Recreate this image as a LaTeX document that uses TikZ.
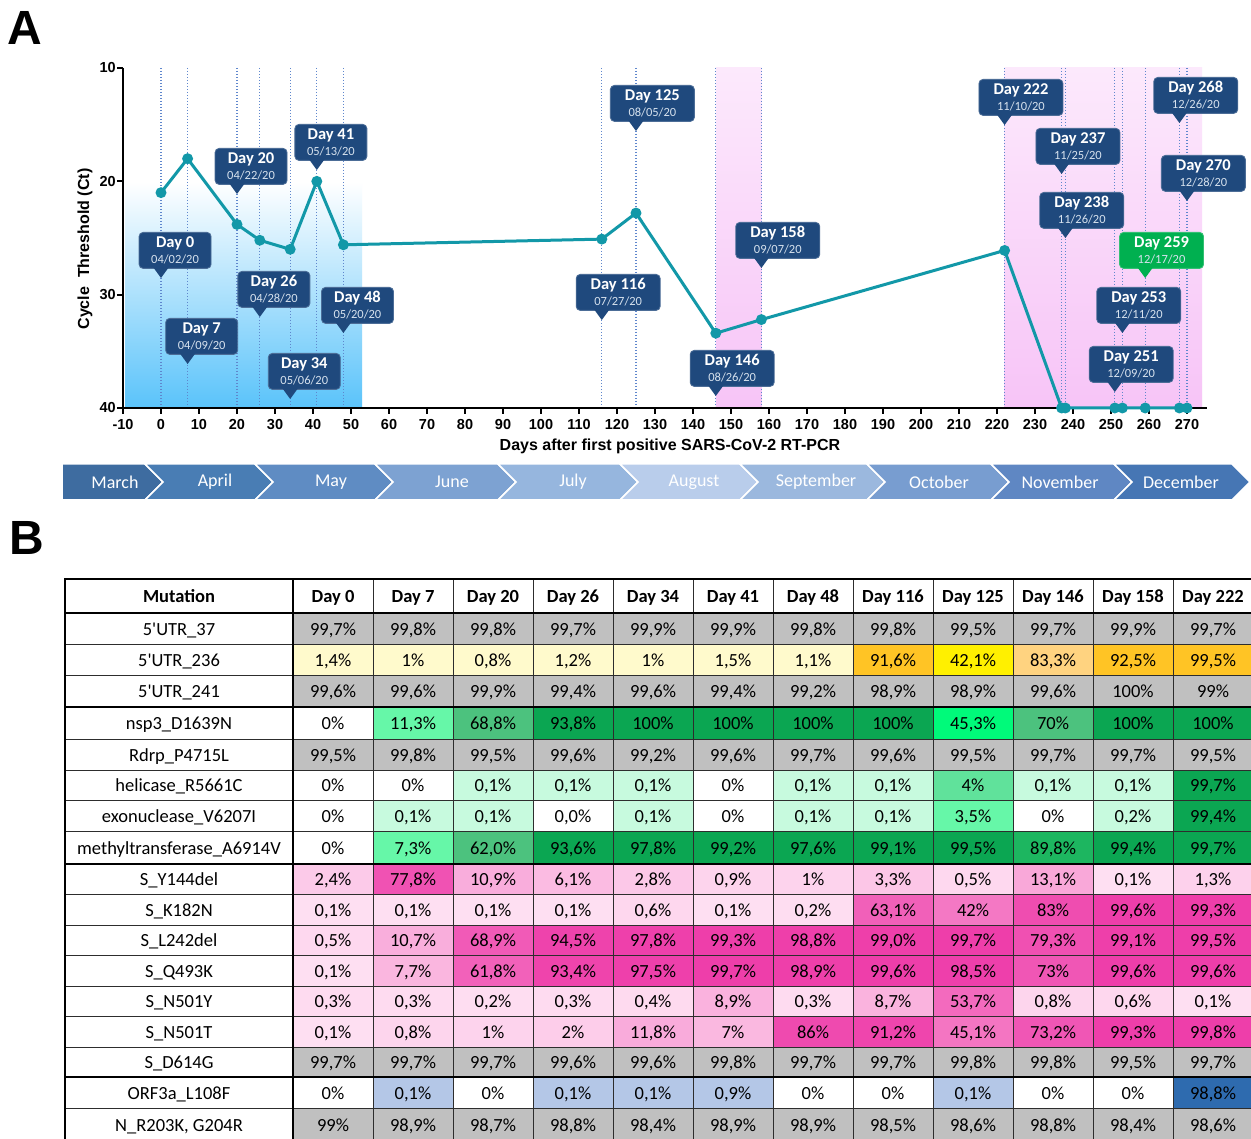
\documentclass[tikz,border=0pt]{standalone}
\usepackage{fontspec}
\setmainfont{Carlito}
\newfontfamily\arial{Liberation Sans}
\definecolor{navy}{RGB}{31,73,125}
\definecolor{cgreen}{RGB}{0,176,80}
\definecolor{datec}{RGB}{215,226,238}
\definecolor{dotc}{RGB}{95,135,205}
\definecolor{tealc}{RGB}{18,152,168}
\definecolor{bluesh}{RGB}{90,195,250}
\definecolor{bluemid}{RGB}{165,218,250}
\definecolor{pinkT}{RGB}{252,233,252}
\definecolor{pinkB}{RGB}{247,196,247}
\definecolor{m1}{RGB}{62,108,160}
\definecolor{m2}{RGB}{73,125,180}
\definecolor{m3}{RGB}{95,140,195}
\definecolor{m4}{RGB}{125,162,210}
\definecolor{m5}{RGB}{150,182,222}
\definecolor{m6}{RGB}{185,205,235}
\definecolor{m7}{RGB}{155,184,222}
\definecolor{m8}{RGB}{120,157,208}
\definecolor{m9}{RGB}{95,135,195}
\definecolor{m10}{RGB}{70,118,180}
\definecolor{gy}{RGB}{192,192,192}
\definecolor{yL}{RGB}{255,250,204}
\definecolor{yO}{RGB}{255,196,37}
\definecolor{yY}{RGB}{255,240,0}
\definecolor{yP}{RGB}{255,211,128}
\definecolor{gW}{RGB}{255,255,255}
\definecolor{gA}{RGB}{199,250,222}
\definecolor{gB}{RGB}{102,247,168}
\definecolor{gBb}{RGB}{96,226,155}
\definecolor{gC}{RGB}{76,194,126}
\definecolor{gD}{RGB}{11,166,82}
\definecolor{gDb}{RGB}{29,182,96}
\definecolor{gE}{RGB}{0,250,122}
\definecolor{bL}{RGB}{180,199,231}
\definecolor{bD}{RGB}{46,107,175}
\definecolor{pkL}{RGB}{255,228,244}
\definecolor{pkH}{RGB}{238,62,170}
\definecolor{gridc}{RGB}{45,45,45}

\newcommand{\callout}[5][navy]{%
  \pgfmathsetmacro\tx{161+3.8*#2}%
  \pgfmathsetmacro\bl{\tx-0.31*#4}%
  \node[cbox, fill=#1, draw=#1!80!white, minimum width=#4pt, anchor=north west] (c#2) at (\bl,#3)
    {{\bfseries\fontsize{16.5}{16}\selectfont Day #2}\\{\color{datec}#5}};
  \coordinate (c#2tip) at (\tx,{#3+46});
  \fill[#1] ({\tx-8},{#3+35}) -- (c#2tip) -- ({\tx+8},{#3+35}) -- cycle;
}
\newcommand{\trow}[5]{%
  \node[cell] (rn#1) at (179,{(#2+#3)/2+6.5}) {#4};
  \foreach \ccol/\ctxt [count=\i] in {#5} {%
    \fill[\ccol] ({213+80*\i},#2) rectangle ({293+80*\i},#3);
    \node[cell] (r#1c\i) at ({253+80*\i},{(#2+#3)/2+6.5}) {\ctxt};
  }}
\newcommand{\prow}[5]{%
  \node[cell] (rn#1) at (179,{(#2+#3)/2+6.5}) {#4};
  \foreach \pv/\ctxt [count=\i] in {#5} {%
    \pgfmathsetmacro\pmix{min(100,10*sqrt(\pv))}%
    \fill[pkH!\pmix!pkL] ({213+80*\i},#2) rectangle ({293+80*\i},#3);
    \node[cell] (r#1c\i) at ({253+80*\i},{(#2+#3)/2+6.5}) {\ctxt};
  }}
\newcommand{\q}{\textquotesingle}

\begin{document}
\begin{tikzpicture}[x=1pt,y=-1pt,
  cbox/.style={line width=0.8pt, rounded corners=4pt, minimum height=36pt, inner sep=0pt,
    align=center, text=white, font=\fontsize{12.5}{16}\selectfont},
  dayline/.style={draw=dotc, line width=1.1pt, dash pattern=on 1.2pt off 1.8pt},
  tlab/.style={font=\arial\bfseries\fontsize{14.5}{14}\selectfont, inner sep=0pt},
  mon/.style={font=\fontsize{18}{18}\selectfont, text=white, inner sep=0pt},
  cell/.style={font=\fontsize{18.5}{18}\selectfont, inner sep=0pt, anchor=base},
  hdr/.style={font=\bfseries\fontsize{18.5}{18}\selectfont, inner sep=0pt, anchor=base},
  thingrid/.style={draw=gridc, line width=0.9pt},
  thickgrid/.style={draw=black, line width=2.2pt},
  dataline/.style={draw=tealc, line width=3pt, line join=round},
  panel/.style={font=\arial\bfseries\fontsize{48}{48}\selectfont, inner sep=0pt}]
\useasboundingbox (0,0) rectangle (1251,1139);
\fill[white] (0,0) rectangle (1251,1139);

% panel labels
\node[panel] (lA) at (25,28) {A};
\node[panel] (lB) at (27,538) {B};

% shaded regions
\shade[top color=white, middle color=bluemid, bottom color=bluesh] (125,182) rectangle (362,408);
\shade[top color=pinkT, bottom color=pinkB] (715.8,68) rectangle (761.4,408);
\shade[top color=pinkT, bottom color=pinkB] (1004.6,68) rectangle (1202,408);

% dotted day lines
\foreach \d in {0,7,20,26,34,41,48,116,125,146,158,222,237,238,251,253,259,268,270}
  \draw[dayline] ({161+3.8*\d},68) -- ({161+3.8*\d},408);

% axes
\draw[line width=2pt] (123,68) -- (123,408) -- (1207,408);
\foreach \yy in {68,181.3,294.7,408} \draw[line width=2pt] (117,\yy) -- (123,\yy);
\foreach \d in {-10,0,...,270} {
  \draw[line width=2pt] ({161+3.8*\d},408) -- ({161+3.8*\d},414);
  \node[tlab] (xt\d) at ({161+3.8*\d},425) {\d};
}
\foreach \v/\yy in {10/68,20/181.3,30/294.7,40/408}
  \node[tlab, anchor=east] (yt\v) at (116,\yy) {\v};
\node[font=\arial\bfseries\fontsize{16}{16}\selectfont, rotate=90, inner sep=0pt] (ylab) at (85,249) {Cycle~ Threshold (Ct)};
\node[font=\arial\bfseries\fontsize{16}{16}\selectfont, inner sep=0pt] (xlab) at (670,446) {Days after first positive SARS-CoV-2 RT-PCR};

% data
\foreach \d/\c in {0/21.0,7/18.0,20/23.8,26/25.2,34/26.0,41/20.0,48/25.6,116/25.1,125/22.8,146/33.4,158/32.2,222/26.1,237/40,238/40,251/40,253/40,259/40,268/40,270/40}
  \coordinate (p\d) at ({161+3.8*\d},{68+11.333*(\c-10)});
\draw[dataline] (p0) -- (p7) -- (p20) -- (p26) -- (p34) -- (p41) -- (p48) -- (p116) -- (p125) -- (p146) -- (p158) -- (p222) -- (p237) -- (p238) -- (p251) -- (p253) -- (p259) -- (p268) -- (p270);
\foreach \d in {0,7,20,26,34,41,48,116,125,146,158,222,237,238,251,253,259,268,270}
  \fill[tealc] (p\d) circle (5.5);

% callouts
\callout{0}{232}{72}{04/02/20}
\callout{7}{318}{72}{04/09/20}
\callout{20}{148}{72}{04/22/20}
\callout{26}{271}{72}{04/28/20}
\callout{34}{353}{72}{05/06/20}
\callout{41}{124}{72}{05/13/20}
\callout{48}{287}{72}{05/20/20}
\callout{116}{274}{84}{07/27/20}
\callout{125}{85}{84}{08/05/20}
\callout{146}{350}{84}{08/26/20}
\callout{158}{222}{84}{09/07/20}
\callout{222}{79}{84}{11/10/20}
\callout{237}{128}{84}{11/25/20}
\callout{238}{192}{84}{11/26/20}
\callout{268}{77}{84}{12/26/20}
\callout{270}{155}{84}{12/28/20}
\callout[cgreen]{259}{232}{84}{12/17/20}
\callout{253}{287}{84}{12/11/20}
\callout{251}{346}{84}{12/09/20}

% month band
\filldraw[fill=m1, draw=white, line width=1.5pt] (62,464) -- (145,464) -- (163,482) -- (145,500) -- (62,500) -- cycle;
\node[mon] (mon1) at (115,482) {March};
\foreach \a/\b/\col/\cx/\mname [count=\i from 2] in {145/255/m2/215/April,255/375/m3/331/May,375/498/m4/452/June,498/620/m5/573/July,620/740/m6/694/August,740/867/m7/816/September,867/991/m8/939/October,991/1114/m9/1060/November,1114/1232/m10/1181/December} {
  \filldraw[fill=\col, draw=white, line width=1.5pt] (\a,464) -- (\b,464) -- ({\b+18},482) -- (\b,500) -- (\a,500) -- ({\a+18},482) -- cycle;
  \node[mon] (mon\i) at (\cx,482) {\mname};
}

% table
\node[hdr] (hm) at (179,602.5) {Mutation};
\foreach \h [count=\i] in {0,7,20,26,34,41,48,116,125,146,158,222}
  \node[hdr] (h\i) at ({253+80*\i},602.5) {Day \h};

\trow{1}{613}{644}{5\q UTR\_37}{gy/{99,7\%},gy/{99,8\%},gy/{99,8\%},gy/{99,7\%},gy/{99,9\%},gy/{99,9\%},gy/{99,8\%},gy/{99,8\%},gy/{99,5\%},gy/{99,7\%},gy/{99,9\%},gy/{99,7\%}}
\trow{2}{644}{675}{5\q UTR\_236}{yL/{1,4\%},yL/{1\%},yL/{0,8\%},yL/{1,2\%},yL/{1\%},yL/{1,5\%},yL/{1,1\%},yO/{91,6\%},yY/{42,1\%},yP/{83,3\%},yO/{92,5\%},yO/{99,5\%}}
\trow{3}{675}{707}{5\q UTR\_241}{gy/{99,6\%},gy/{99,6\%},gy/{99,9\%},gy/{99,4\%},gy/{99,6\%},gy/{99,4\%},gy/{99,2\%},gy/{98,9\%},gy/{98,9\%},gy/{99,6\%},gy/{100\%},gy/{99\%}}
\trow{4}{707}{739}{nsp3\_D1639N}{gW/{0\%},gB/{11,3\%},gC/{68,8\%},gD/{93,8\%},gD/{100\%},gD/{100\%},gD/{100\%},gD/{100\%},gE/{45,3\%},gC/{70\%},gD/{100\%},gD/{100\%}}
\trow{5}{739}{770}{Rdrp\_P4715L}{gy/{99,5\%},gy/{99,8\%},gy/{99,5\%},gy/{99,6\%},gy/{99,2\%},gy/{99,6\%},gy/{99,7\%},gy/{99,6\%},gy/{99,5\%},gy/{99,7\%},gy/{99,7\%},gy/{99,5\%}}
\trow{6}{770}{800}{helicase\_R5661C}{gW/{0\%},gW/{0\%},gA/{0,1\%},gA/{0,1\%},gA/{0,1\%},gW/{0\%},gA/{0,1\%},gA/{0,1\%},gBb/{4\%},gA/{0,1\%},gA/{0,1\%},gD/{99,7\%}}
\trow{7}{800}{831}{exonuclease\_V6207I}{gW/{0\%},gA/{0,1\%},gA/{0,1\%},gW/{0,0\%},gA/{0,1\%},gW/{0\%},gA/{0,1\%},gA/{0,1\%},gB/{3,5\%},gW/{0\%},gA/{0,2\%},gD/{99,4\%}}
\trow{8}{831}{864}{methyltransferase\_A6914V}{gW/{0\%},gB/{7,3\%},gC/{62,0\%},gD/{93,6\%},gD/{97,8\%},gD/{99,2\%},gD/{97,6\%},gD/{99,1\%},gD/{99,5\%},gDb/{89,8\%},gD/{99,4\%},gD/{99,7\%}}
\prow{9}{864}{894}{S\_Y144del}{2.4/{2,4\%},77.8/{77,8\%},10.9/{10,9\%},6.1/{6,1\%},2.8/{2,8\%},0.9/{0,9\%},1/{1\%},3.3/{3,3\%},0.5/{0,5\%},13.1/{13,1\%},0.1/{0,1\%},1.3/{1,3\%}}
\prow{10}{894}{925}{S\_K182N}{0.1/{0,1\%},0.1/{0,1\%},0.1/{0,1\%},0.1/{0,1\%},0.6/{0,6\%},0.1/{0,1\%},0.2/{0,2\%},63.1/{63,1\%},42/{42\%},83/{83\%},99.6/{99,6\%},99.3/{99,3\%}}
\prow{11}{925}{955}{S\_L242del}{0.5/{0,5\%},10.7/{10,7\%},68.9/{68,9\%},94.5/{94,5\%},97.8/{97,8\%},99.3/{99,3\%},98.8/{98,8\%},99/{99,0\%},99.7/{99,7\%},79.3/{79,3\%},99.1/{99,1\%},99.5/{99,5\%}}
\prow{12}{955}{986}{S\_Q493K}{0.1/{0,1\%},7.7/{7,7\%},61.8/{61,8\%},93.4/{93,4\%},97.5/{97,5\%},99.7/{99,7\%},98.9/{98,9\%},99.6/{99,6\%},98.5/{98,5\%},73/{73\%},99.6/{99,6\%},99.6/{99,6\%}}
\prow{13}{986}{1016}{S\_N501Y}{0.3/{0,3\%},0.3/{0,3\%},0.2/{0,2\%},0.3/{0,3\%},0.4/{0,4\%},8.9/{8,9\%},0.3/{0,3\%},8.7/{8,7\%},53.7/{53,7\%},0.8/{0,8\%},0.6/{0,6\%},0.1/{0,1\%}}
\prow{14}{1016}{1047}{S\_N501T}{0.1/{0,1\%},0.8/{0,8\%},1/{1\%},2/{2\%},11.8/{11,8\%},7/{7\%},86/{86\%},91.2/{91,2\%},45.1/{45,1\%},73.2/{73,2\%},99.3/{99,3\%},99.8/{99,8\%}}
\trow{15}{1047}{1077}{S\_D614G}{gy/{99,7\%},gy/{99,7\%},gy/{99,7\%},gy/{99,6\%},gy/{99,6\%},gy/{99,8\%},gy/{99,7\%},gy/{99,7\%},gy/{99,8\%},gy/{99,8\%},gy/{99,5\%},gy/{99,7\%}}
\trow{16}{1077}{1108}{ORF3a\_L108F}{gW/{0\%},bL/{0,1\%},gW/{0\%},bL/{0,1\%},bL/{0,1\%},bL/{0,9\%},gW/{0\%},gW/{0\%},bL/{0,1\%},gW/{0\%},gW/{0\%},bD/{98,8\%}}
\trow{17}{1108}{1141}{N\_R203K, G204R}{gy/{99\%},gy/{98,9\%},gy/{98,7\%},gy/{98,8\%},gy/{98,4\%},gy/{98,9\%},gy/{98,9\%},gy/{98,5\%},gy/{98,6\%},gy/{98,8\%},gy/{98,4\%},gy/{98,6\%}}

% grid
\foreach \yy in {644,675,739,770,800,831,894,925,955,986,1016,1047,1108}
  \draw[thingrid] (65,\yy) -- (1251,\yy);
\foreach \k in {1,...,11}
  \draw[thingrid] ({293+80*\k},579) -- ({293+80*\k},1139);
\draw[draw=black, line width=1.6pt] (65,613) -- (1251,613);
\foreach \yy in {579,707,864,1077}
  \draw[thickgrid] (65,\yy) -- (1251,\yy);
\draw[thickgrid] (65,578) -- (65,1139);
\draw[thickgrid] (293,578) -- (293,1139);
\end{tikzpicture}
\end{document}
